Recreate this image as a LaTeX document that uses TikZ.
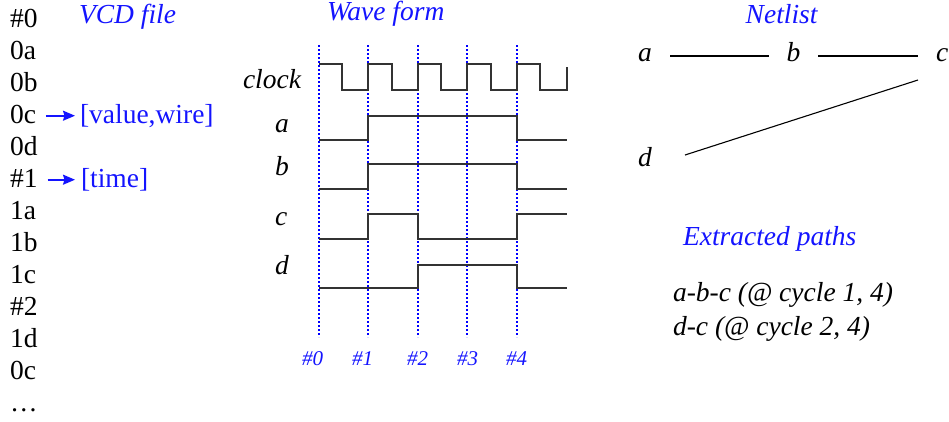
\documentclass[tikz,border=0pt]{standalone}
\usepackage{fontspec}
\setmainfont{Liberation Serif}
\usetikzlibrary{arrows.meta}
\definecolor{vblue}{RGB}{20,20,255}
\tikzset{
  txt/.style={anchor=base west,inner sep=0pt,outer sep=0pt,font=\fontsize{27.5}{33}\selectfont},
  ttl/.style={txt,text=vblue,font=\fontsize{27.5}{33}\selectfont\itshape},
  itx/.style={txt,font=\fontsize{27.5}{33}\selectfont\itshape},
  tlab/.style={txt,text=vblue,font=\fontsize{21}{25}\selectfont\itshape},
  btx/.style={txt,text=vblue},
  arr/.style={draw=vblue,line width=1.8pt,-{Stealth[length=12pt,width=10pt,inset=1.5pt]}},
  vline/.style={draw=blue,line width=1.7pt,dash pattern=on 1.7pt off 2.3pt},
  wave/.style={draw=black!80,line width=1.3pt},
  net/.style={draw=black,line width=1.1pt}
}
\begin{document}
\begin{tikzpicture}[x=1pt,y=-1pt]
\useasboundingbox (0,0) rectangle (949,421);
% VCD column
\foreach \t [count=\i from 0] in {\#0,0a,0b,0c,0d,\#1,1a,1b,1c,\#2,1d,0c,\ldots}{
  \node[txt] (v\i) at (10,{27.3+32*\i}) {\t};
}
\node[ttl] (vcdt) at (79,23) {VCD file};
\node[btx] (vw) at (80,123.3) {[value,wire]};
\node[btx] (vt) at (81,187.3) {[time]};
\draw[arr] ([xshift=10pt,yshift=7.6pt]v3.base east) -- ([xshift=-5pt,yshift=7.6pt]vw.base west);
\draw[arr] ([xshift=10pt,yshift=7.6pt]v5.base east) -- ([xshift=-6pt,yshift=7.6pt]vt.base west);
% Wave form
\node[ttl] (wft) at (327,20.7) {Wave form};
\foreach \x in {319,368,418,467,517}{
  \draw[vline] (\x,45) -- (\x,337);
}
\foreach \k/\x/\l in {0/302/\#0,1/352/\#1,2/407/\#2,3/457/\#3,4/506/\#4}{
  \node[tlab] (h\k) at (\x,365.7) {\l};
}
\node[itx] (lclk) at (243,88.3) {clock};
\node[itx] (la) at (275,132.7) {a};
\node[itx] (lb) at (275,175) {b};
\node[itx] (lc) at (275,225) {c};
\node[itx] (ld) at (275,274) {d};
% clock
\draw[wave] (319,64)
  -- (342,64) -- (342,90) -- (368,90) -- (368,64)
  -- (392,64) -- (392,90) -- (418,90) -- (418,64)
  -- (441,64) -- (441,90) -- (467,90) -- (467,64)
  -- (491,64) -- (491,90) -- (517,90) -- (517,64)
  -- (540,64) -- (540,90) -- (567,90) -- (567,67);
% a
\draw[wave] (319,140) -- (368,140) -- (368,116) -- (517,116) -- (517,140) -- (567,140);
% b
\draw[wave] (319,189) -- (368,189) -- (368,164) -- (517,164) -- (517,189) -- (567,189);
% c
\draw[wave] (319,239) -- (368,239) -- (368,214) -- (418,214) -- (418,239) -- (517,239) -- (517,214) -- (567,214);
% d
\draw[wave] (319,288) -- (418,288) -- (418,265) -- (517,265) -- (517,288) -- (567,288);
% Netlist
\node[ttl] (nlt) at (745.7,23.3) {Netlist};
\node[itx] (na) at (638,61.7) {a};
\node[itx] (nb) at (786.7,61.7) {b};
\node[itx] (nc) at (936,61.7) {c};
\node[itx] (nd) at (638,166.7) {d};
\coordinate (ab1) at (670,56);
\coordinate (ab2) at (769,56);
\coordinate (bc1) at (818,56);
\coordinate (bc2) at (918,56);
\coordinate (dc1) at (685,155);
\coordinate (dc2) at (918,80);
\draw[net] (ab1) -- (ab2);
\draw[net] (bc1) -- (bc2);
\draw[net] (dc1) -- (dc2);
% Extracted paths
\node[ttl] (ept) at (683,245) {Extracted paths};
\node[itx] (p1) at (673,301.7) {a-b-c (@ cycle 1, 4)};
\node[itx] (p2) at (673,335) {d-c (@ cycle 2, 4)};
\end{tikzpicture}
\end{document}
